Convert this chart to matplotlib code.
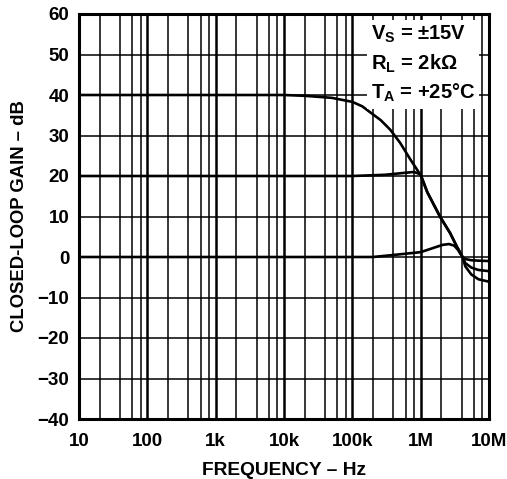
import matplotlib
matplotlib.use("Agg")
import matplotlib.pyplot as plt
from matplotlib.ticker import LogLocator, FixedLocator, NullFormatter

plt.rcParams['font.family'] = ['Liberation Sans', 'DejaVu Sans']
plt.rcParams['font.weight'] = 'bold'
plt.rcParams['mathtext.fontset'] = 'custom'
plt.rcParams['mathtext.rm'] = 'Liberation Sans:bold'
plt.rcParams['mathtext.it'] = 'Liberation Sans:bold'
plt.rcParams['mathtext.bf'] = 'Liberation Sans:bold'

# Data
freq_40 = [10, 1e4, 2e4, 5e4, 1e5, 1.4e5, 1.8e5, 2.6e5, 3.6e5, 5e5, 7e5, 1e6, 1.25e6, 1.93e6, 2.7e6, 3.4e6, 4.1e6, 4.5e6, 5.5e6, 7e6, 1e7]
gain_40 = [40, 40, 39.8, 39.3, 38.3, 37.2, 35.8, 33.8, 31.4, 28.2, 24.2, 20.2, 16.0, 9.9, 5.9, 2.5, 0.0, -2.3, -4.3, -5.5, -6.1]

freq_20 = [10, 1e5, 3e5, 6e5, 8e5, 1e6, 1.25e6, 1.93e6, 2.7e6, 3.4e6, 4.1e6, 4.5e6, 5.5e6, 7e6, 1e7]
gain_20 = [20, 20, 20.3, 20.8, 21.0, 20.4, 16.0, 9.9, 5.9, 2.5, 0.0, -1.5, -2.6, -3.2, -3.5]

freq_0 = [10, 2e5, 4e5, 1e6, 2.1e6, 2.6e6, 3.1e6, 3.5e6, 4.1e6, 4.5e6, 5.5e6, 7e6, 1e7]
gain_0 = [0, 0, 0.5, 1.2, 3.0, 3.2, 2.8, 1.8, 0.0, -0.5, -0.8, -0.9, -1.0]

x_ticks = [10, 100, 1e3, 1e4, 1e5, 1e6, 1e7]
x_tick_labels = ['10', '100', '1k', '10k', '100k', '1M', '10M']
y_ticks = [-40, -30, -20, -10, 0, 10, 20, 30, 40, 50, 60]
y_tick_labels = ['\u221240', '\u221230', '\u221220', '\u221210', '0', '10', '20', '30', '40', '50', '60']

fig = plt.figure(figsize=(5.07, 4.79), dpi=100)
ax = fig.add_axes([79/507, 1 - 419/479, (489-79)/507, (419-14)/479])

ax.set_xscale('log')
ax.set_xlim(10, 1e7)
ax.set_ylim(-40, 60)

ax.xaxis.set_major_locator(FixedLocator(x_ticks))
ax.set_xticklabels(x_tick_labels)
ax.xaxis.set_minor_locator(LogLocator(base=10, subs=[2, 4, 6, 8], numticks=20))
ax.xaxis.set_minor_formatter(NullFormatter())
ax.set_yticks(y_ticks)
ax.set_yticklabels(y_tick_labels)

ax.grid(True, which='major', axis='x', color='black', linewidth=1.8)
ax.grid(True, which='minor', axis='x', color='black', linewidth=1.1)
ax.grid(True, which='major', axis='y', color='black', linewidth=1.1)
ax.tick_params(which='both', length=0, labelsize=13.5)
ax.tick_params(axis='x', pad=10)
ax.tick_params(axis='y', pad=7)
for lab in ax.get_xticklabels() + ax.get_yticklabels():
    lab.set_fontweight('bold')

for s in ax.spines.values():
    s.set_linewidth(2.2)

for f, g in [(freq_40, gain_40), (freq_20, gain_20), (freq_0, gain_0)]:
    ax.plot(f, g, color='black', linewidth=1.9, solid_capstyle='round',
            solid_joinstyle='round', zorder=3)

ax.text(0.712, 0.975, 'V$_S$ = \u00b115V\nR$_L$ = 2k\u03a9\nT$_A$ = +25\u00b0C',
        transform=ax.transAxes, ha='left', va='top', fontsize=14.5, fontweight='bold',
        linespacing=1.42,
        bbox=dict(facecolor='white', edgecolor='none', pad=3), zorder=5)

ax.set_xlabel('FREQUENCY \u2013 Hz', fontsize=13.8, fontweight='bold', labelpad=9)
ax.set_ylabel('CLOSED-LOOP GAIN \u2013 dB', fontsize=13.3, fontweight='bold', labelpad=7)

fig.savefig('out.png', dpi=100)
